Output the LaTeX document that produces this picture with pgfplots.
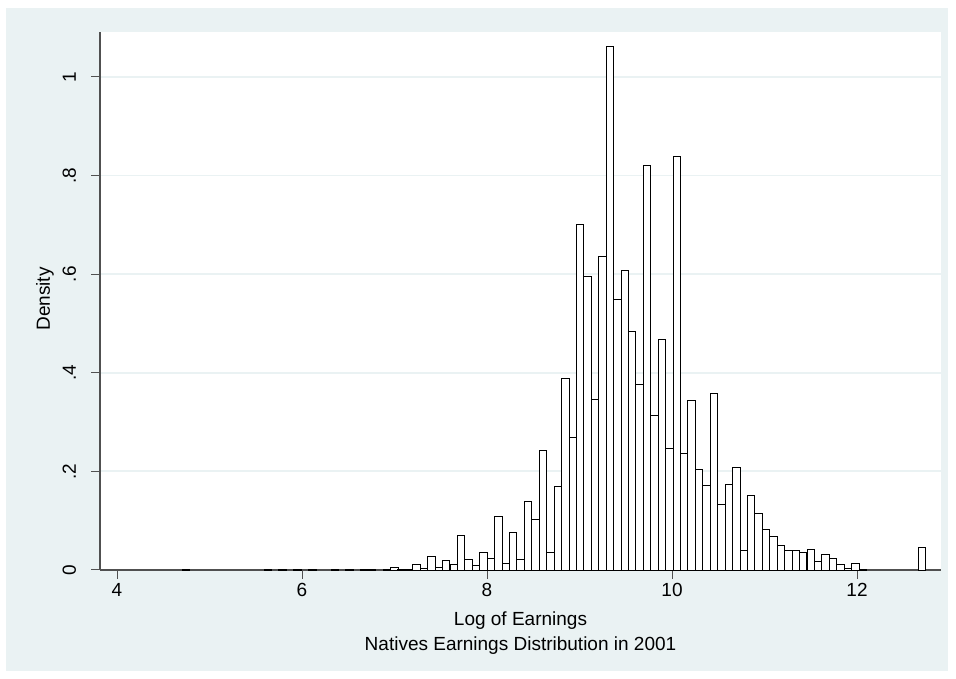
\documentclass[border=0pt]{standalone}
\usepackage{pgfplots}
\pgfplotsset{compat=1.18}
\usepackage{pgfplotstable}
\usepackage{fontspec}
\setmainfont{Liberation Sans}
\definecolor{bgc}{RGB}{234,242,243}
\definecolor{axc}{RGB}{80,80,80}
\pgfplotstableread{
x y
4.745 0.001
5.630 0.001
5.790 0.001
5.951 0.001
6.112 0.001
6.353 0.001
6.514 0.001
6.675 0.001
6.755 0.001
6.916 0.001
6.997 0.005
7.077 0.001
7.157 0.001
7.238 0.012
7.318 0.003
7.398 0.028
7.479 0.005
7.559 0.020
7.640 0.011
7.720 0.070
7.801 0.022
7.881 0.009
7.961 0.036
8.042 0.023
8.122 0.108
8.202 0.013
8.283 0.077
8.363 0.022
8.444 0.139
8.524 0.102
8.604 0.243
8.685 0.036
8.765 0.169
8.846 0.389
8.926 0.268
9.006 0.700
9.087 0.596
9.167 0.346
9.248 0.637
9.328 1.061
9.408 0.549
9.489 0.608
9.569 0.483
9.650 0.377
9.730 0.820
9.810 0.313
9.891 0.468
9.971 0.247
10.052 0.838
10.132 0.236
10.212 0.344
10.293 0.203
10.373 0.171
10.454 0.359
10.534 0.132
10.614 0.173
10.695 0.207
10.775 0.040
10.856 0.152
10.936 0.114
11.016 0.083
11.097 0.069
11.177 0.050
11.258 0.039
11.338 0.039
11.418 0.035
11.499 0.042
11.579 0.018
11.660 0.032
11.740 0.024
11.820 0.011
11.901 0.004
11.981 0.014
12.062 0.0015
12.705 0.046
}\histdata
\begin{document}
\begin{tikzpicture}
\fill[white] (-100pt,-109pt) rectangle (856pt,570pt);
\fill[bgc] (-94pt,-101pt) rectangle (848pt,562pt);
\begin{axis}[
  name=ax, at={(0pt,0pt)}, anchor=south west,
  width=841pt, height=538pt, scale only axis,
  xmin=3.816, xmax=12.908, ymin=0, ymax=1.0913,
  axis background/.style={fill=white},
  axis x line*=bottom, axis y line*=left,
  axis line style={draw=axc, line width=1.2pt, -},
  xtick={4,6,8,10,12}, xticklabels={4,6,8,10,12},
  ytick={0,0.2,0.4,0.6,0.8,1}, yticklabels={0,.2,.4,.6,.8,1},
  tick align=outside, major tick length=9pt,
  tick style={draw=axc, line width=1pt},
  ymajorgrids, major grid style={draw=bgc, line width=1.8pt},
  every tick label/.append style={font=\fontsize{19}{22}\selectfont},
  xticklabel style={anchor=base, yshift=-18pt},
  yticklabel style={rotate=90, anchor=base, yshift=15pt},
  clip=false,
]
\addplot[ybar, bar width=0.0804, fill=white, draw=black, line width=0.9pt] table[x=x,y=y] {\histdata};
\end{axis}
\node[anchor=base, font=\fontsize{19}{22}\selectfont] at ([yshift=-56pt]ax.south) {Log of Earnings};
\node[anchor=base, font=\fontsize{19}{22}\selectfont] at ([yshift=-81pt]ax.south) {Natives Earnings Distribution in 2001};
\node[anchor=base, rotate=90, font=\fontsize{19}{22}\selectfont] at ([xshift=-50pt,yshift=2pt]ax.west) {Density};
\end{tikzpicture}
\end{document}
